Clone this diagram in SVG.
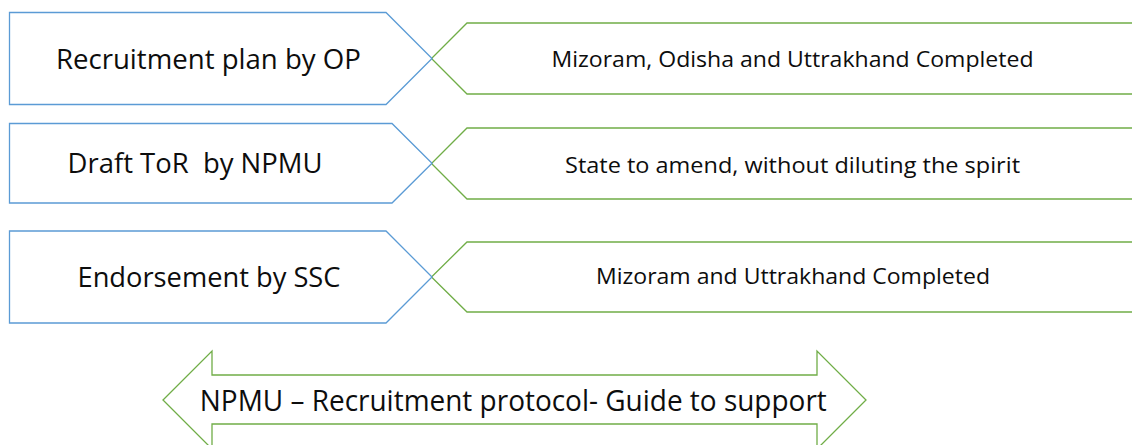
<svg xmlns="http://www.w3.org/2000/svg" width="1132" height="445" viewBox="0 0 1132 445">
<style>
.blue{fill:#ffffff;stroke:#5B9BD5;stroke-width:1.3}
.green{fill:#ffffff;stroke:#70AD47;stroke-width:1.3}
text{font-family:"Open Sans","Noto Sans","Liberation Sans",sans-serif;fill:#0d0d0d;text-anchor:middle}
.l{font-size:27px}
.r{font-size:22.5px}
.b{font-size:30px}
</style>
<rect width="1132" height="445" fill="#ffffff"/>
<g id="row1-result">
<polygon class="green" points="467,23 1140,23 1140,94 467,94 431.5,58.5"/>
<text class="r" x="792.5" y="67" textLength="482" lengthAdjust="spacingAndGlyphs">Mizoram, Odisha and Uttrakhand Completed</text>
</g>
<g id="row1-step">
<polygon class="blue" points="9.5,12.5 386,12.5 432,58.5 386,104.5 9.5,104.5"/>
<text class="l" x="208.4" y="69" textLength="305" lengthAdjust="spacingAndGlyphs">Recruitment plan by OP</text>
</g>
<g id="row2-result">
<polygon class="green" points="467,128 1140,128 1140,199 467,199 431.5,163.5"/>
<text class="r" x="792.5" y="172.7" textLength="455" lengthAdjust="spacingAndGlyphs">State to amend, without diluting the spirit</text>
</g>
<g id="row2-step">
<polygon class="blue" points="9.5,123.5 392,123.5 432,163.3 392,203 9.5,203"/>
<text class="l" x="195" y="173.3" textLength="255" lengthAdjust="spacingAndGlyphs" xml:space="preserve">Draft ToR  by NPMU</text>
</g>
<g id="row3-result">
<polygon class="green" points="467,242 1140,242 1140,312 467,312 431.5,277"/>
<text class="r" x="793" y="284.3" textLength="394" lengthAdjust="spacingAndGlyphs">Mizoram and Uttrakhand Completed</text>
</g>
<g id="row3-step">
<polygon class="blue" points="9.5,231 386,231 432,277 386,323 9.5,323"/>
<text class="l" x="209" y="286.7" textLength="263" lengthAdjust="spacingAndGlyphs">Endorsement by SSC</text>
</g>
<g id="protocol-arrow">
<polygon class="green" points="163,400 212,351 212,375 817,375 817,351 866,400 817,449 817,424 212,424 212,449"/>
<text class="b" x="513.3" y="410.7" textLength="627" lengthAdjust="spacingAndGlyphs">NPMU – Recruitment protocol- Guide to support</text>
</g>
<g id="connectors"></g>
</svg>
